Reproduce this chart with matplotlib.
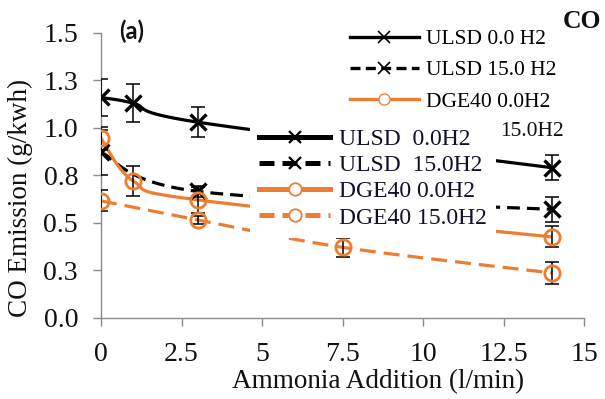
import numpy as np
import matplotlib
matplotlib.use("Agg")
import matplotlib.pyplot as plt
from matplotlib.lines import Line2D

# ---- data -------------------------------------------------------------
ulsd0_x = [0, 1, 3, 14]
ulsd0_y = [1.16, 1.13, 1.03, 0.79]
ulsd0_err = [0.10, 0.10, 0.08, 0.065]

ulsd15_x = [0, 3, 14]
ulsd15_y = [0.87, 0.665, 0.57]
ulsd15_err = [0.12, 0.03, 0.065]

dge0_x = [0, 1, 3, 14]
dge0_y = [0.945, 0.72, 0.62, 0.425]
dge0_err = [0.06, 0.08, 0.07, 0.055]

dge15_x = [0, 3, 7.5, 14]
dge15_y = [0.615, 0.515, 0.37, 0.235]
dge15_err = [0.055, 0.02, 0.05, 0.06]

y_ticks = [0.0, 0.25, 0.5, 0.75, 1.0, 1.25, 1.5]
y_tick_labels = ["0.0", "0.3", "0.5", "0.8", "1.0", "1.3", "1.5"]
x_ticks = [0, 2.5, 5, 7.5, 10, 12.5, 15]
x_tick_labels = ["0", "2.5", "5", "7.5", "10", "12.5", "15"]

legend_a = ["ULSD 0.0 H2", "ULSD 15.0 H2", "DGE40 0.0H2"]
legend_a_tail = "15.0H2"
legend_b = ["ULSD  0.0H2", "ULSD  15.0H2", "DGE40 0.0H2", "DGE40 15.0H2"]

ORANGE = "#ED7D31"
SERIF = "Liberation Serif"


def smooth(xs, ys, n=60):
    """Bezier smoothing through every point (spreadsheet-style smoothed line)."""
    p = np.column_stack([xs, ys]).astype(float)
    m = len(p)
    out = []
    for i in range(m - 1):
        p0 = p[max(i - 1, 0)]
        p1 = p[i]
        p2 = p[i + 1]
        p3 = p[min(i + 2, m - 1)]
        c1 = p1 + (p2 - p0) / 6.0
        c2 = p2 - (p3 - p1) / 6.0
        t = np.linspace(0, 1, n)[:, None]
        seg = ((1 - t) ** 3) * p1 + 3 * ((1 - t) ** 2) * t * c1 \
            + 3 * (1 - t) * t ** 2 * c2 + t ** 3 * p2
        out.append(seg if i == 0 else seg[1:])
    s = np.vstack(out)
    return s[:, 0], s[:, 1]


fig = plt.figure(figsize=(6.05, 3.99), dpi=100)
ax = fig.add_axes([101 / 605, 1 - 317.5 / 399, 483 / 605, 284.5 / 399])

series = [
    (ulsd0_x, ulsd0_y, ulsd0_err, "black", "-", "x"),
    (ulsd15_x, ulsd15_y, ulsd15_err, "black", (0, (4, 2.2)), "x"),
    (dge0_x, dge0_y, dge0_err, ORANGE, "-", "o"),
    (dge15_x, dge15_y, dge15_err, ORANGE, (0, (5, 2.5)), "o"),
]

for xs, ys, err, col, ls, mk in series:
    sx, sy = smooth(xs, ys)
    ax.plot(sx, sy, color=col, lw=2.3, linestyle=ls, zorder=2,
            solid_capstyle="butt", dash_capstyle="butt")
    ax.errorbar(xs, ys, yerr=err, fmt="none", ecolor="black", elinewidth=1.1,
                capsize=5, capthick=1.1, zorder=3)
    if mk == "x":
        ax.plot(xs, ys, linestyle="none", marker="x", markersize=11,
                markeredgewidth=2.4, color=col, zorder=4)
    else:
        ax.plot(xs, ys, linestyle="none", marker="o", markersize=11,
                markerfacecolor="none", markeredgewidth=2.0,
                markeredgecolor=col, zorder=4)

ax.set_xlim(0, 15)
ax.set_ylim(0, 1.5)
ax.set_xticks(x_ticks)
ax.set_xticklabels(x_tick_labels)
ax.set_yticks(y_ticks)
ax.set_yticklabels(y_tick_labels)
for lab in ax.get_xticklabels() + ax.get_yticklabels():
    lab.set_fontfamily(SERIF)
    lab.set_fontsize(20)
    lab.set_color("#111111")

for side in ("top", "right"):
    ax.spines[side].set_visible(False)
for side in ("left", "bottom"):
    ax.spines[side].set_color("#8c8c8c")
    ax.spines[side].set_linewidth(1.0)
ax.tick_params(axis="both", direction="out", color="#8c8c8c", length=5.5, width=1.0)
ax.tick_params(axis="y", pad=11)
ax.tick_params(axis="x", pad=12)

ax.set_xlabel("Ammonia Addition (l/min)", fontfamily=SERIF, fontsize=19.5, color="#111111")
ax.set_ylabel("CO Emission (g/kwh)", fontfamily=SERIF, fontsize=19.5, color="#111111")
ax.xaxis.set_label_coords(0.5745, -0.18)
ax.yaxis.set_label_coords(-0.14, 0.42)


def handles(lw, ms, mew):
    return [
        Line2D([], [], color="black", lw=lw, marker="x", markersize=ms, markeredgewidth=mew),
        Line2D([], [], color="black", lw=lw, linestyle=(0, (3, 1.6)), marker="x",
               markersize=ms, markeredgewidth=mew),
        Line2D([], [], color=ORANGE, lw=lw, marker="o", markersize=ms,
               markerfacecolor="white", markeredgewidth=mew * 0.8),
        Line2D([], [], color=ORANGE, lw=lw, linestyle=(0, (3, 1.6)), marker="o",
               markersize=ms, markerfacecolor="white", markeredgewidth=mew * 0.8),
    ]


# frameless legend in the upper right
leg1 = ax.legend(handles(2.4, 8, 1.2)[:3], legend_a, loc="upper left",
                 bbox_to_anchor=(350 / 605, 1 - 29 / 399), bbox_transform=fig.transFigure,
                 frameon=False, prop={"family": SERIF, "size": 15.5},
                 handlelength=3.2, handletextpad=0.35, labelspacing=0.52,
                 borderpad=0, borderaxespad=0)
leg1.set_zorder(5)
ax.add_artist(leg1)
fig.text(500 / 605, 1 - 131 / 399, legend_a_tail, fontfamily=SERIF, fontsize=15.5,
         va="center", ha="left", color="#111111")

# boxed legend drawn over the middle of the plot
leg2 = ax.legend(handles(3.6, 9, 1.6), legend_b, loc="upper left",
                 bbox_to_anchor=(250 / 605, 1 - 119 / 399), bbox_transform=fig.transFigure,
                 frameon=True, fancybox=False, framealpha=1.0, edgecolor="none",
                 facecolor="white", prop={"family": SERIF, "size": 17},
                 handlelength=3.0, handletextpad=0.35, labelspacing=0.2,
                 borderpad=0.4, borderaxespad=0)
leg2.set_zorder(6)
for t in leg2.get_texts():
    t.set_color("#10102a")

fig.text(119 / 605, 1 - 20 / 399, "(a)", fontfamily="Lato", fontweight="bold",
         fontsize=17, va="top", ha="left", color="#111111")
fig.text(563 / 605, 1 - 10 / 399, "CO", fontfamily=SERIF, fontweight="bold",
         fontsize=18.5, va="top", ha="left", color="#111111")

fig.savefig("out.png", dpi=100)
